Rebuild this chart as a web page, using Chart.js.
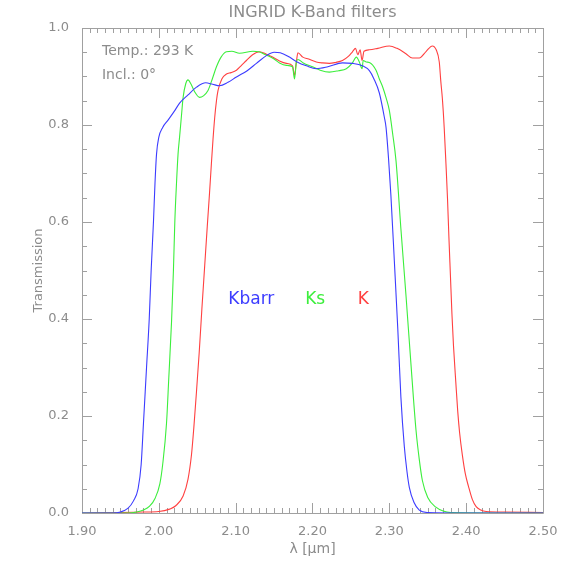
<!DOCTYPE html>
<html><head><meta charset="utf-8">
<script src="https://cdn.jsdelivr.net/npm/chart.js@4.4.0/dist/chart.umd.min.js"></script>
<style>html,body{margin:0;padding:0;background:#fff;}#wrap{width:566px;height:566px;}</style>
</head><body><div id="wrap"><canvas id="c" width="566" height="566"></canvas></div>
<script>
// ---- data (wavelength in micron, transmission) ----
const kbarrLambda = [1.90,1.94,1.950,1.960,1.967,1.973,1.977,1.980,1.984,1.9875,1.990,1.993,1.995,1.997,2.000,2.005,2.012,2.020,2.027,2.038,2.049,2.061,2.070,2.079,2.090,2.101,2.115,2.127,2.140,2.150,2.158,2.170,2.180,2.192,2.205,2.220,2.239,2.252,2.265,2.274,2.280,2.287,2.2935,2.2957,2.299,2.302,2.3065,2.311,2.315,2.3195,2.323,2.326,2.332,2.339,2.350,2.40,2.50];
const kbarrT      = [0,0,0.002,0.010,0.025,0.050,0.100,0.185,0.300,0.400,0.500,0.600,0.680,0.740,0.775,0.795,0.810,0.828,0.845,0.862,0.878,0.887,0.884,0.881,0.888,0.899,0.912,0.927,0.943,0.950,0.949,0.940,0.930,0.922,0.916,0.920,0.928,0.927,0.922,0.912,0.895,0.866,0.816,0.795,0.730,0.656,0.520,0.380,0.240,0.137,0.085,0.053,0.022,0.006,0.001,0,0];

const ksLambda = [1.90,1.96,1.971,1.980,1.988,1.995,2.0013,2.005,2.010,2.013,2.0165,2.019,2.0208,2.023,2.025,2.027,2.0295,2.0316,2.035,2.038,2.042,2.0468,2.053,2.058,2.064,2.070,2.075,2.081,2.088,2.095,2.105,2.1225,2.130,2.140,2.150,2.157,2.166,2.174,2.1766,2.179,2.181,2.188,2.200,2.210,2.222,2.234,2.244,2.252,2.257,2.261,2.2645,2.266,2.270,2.274,2.2827,2.287,2.291,2.296,2.300,2.3045,2.3087,2.315,2.3217,2.328,2.3347,2.339,2.343,2.350,2.3606,2.370,2.380,2.50];
const ksT      = [0,0,0.002,0.006,0.014,0.030,0.060,0.100,0.185,0.280,0.393,0.500,0.600,0.680,0.740,0.775,0.820,0.857,0.885,0.893,0.884,0.868,0.857,0.860,0.871,0.897,0.920,0.940,0.951,0.952,0.948,0.952,0.951,0.944,0.936,0.928,0.923,0.920,0.895,0.930,0.935,0.928,0.920,0.913,0.909,0.912,0.916,0.928,0.940,0.930,0.916,0.933,0.930,0.929,0.913,0.895,0.880,0.855,0.830,0.780,0.726,0.587,0.448,0.310,0.171,0.110,0.067,0.032,0.012,0.004,0.001,0];

const kLambda = [1.90,1.95,1.98,2.000,2.014,2.022,2.0316,2.038,2.0425,2.0455,2.049,2.0525,2.056,2.0597,2.063,2.066,2.0684,2.0705,2.0727,2.075,2.077,2.082,2.088,2.094,2.101,2.107,2.114,2.122,2.131,2.140,2.148,2.157,2.166,2.174,2.1766,2.179,2.181,2.1874,2.195,2.205,2.213,2.222,2.230,2.239,2.247,2.252,2.256,2.259,2.262,2.2645,2.267,2.274,2.285,2.300,2.310,2.3216,2.330,2.339,2.348,2.356,2.361,2.365,2.367,2.369,2.3714,2.3737,2.3757,2.3775,2.3795,2.3815,2.3835,2.3865,2.389,2.3915,2.395,2.399,2.403,2.408,2.413,2.419,2.426,2.45,2.50];
const kT      = [0,0.001,0.002,0.003,0.008,0.015,0.035,0.070,0.120,0.175,0.250,0.330,0.420,0.510,0.590,0.660,0.720,0.770,0.815,0.850,0.871,0.895,0.905,0.908,0.913,0.922,0.933,0.945,0.951,0.946,0.940,0.932,0.927,0.922,0.902,0.930,0.949,0.940,0.936,0.930,0.928,0.927,0.929,0.933,0.942,0.951,0.958,0.945,0.955,0.933,0.952,0.955,0.958,0.963,0.958,0.947,0.938,0.938,0.952,0.963,0.955,0.930,0.890,0.855,0.795,0.720,0.649,0.570,0.490,0.410,0.345,0.270,0.210,0.165,0.120,0.080,0.055,0.028,0.013,0.006,0.003,0.002,0.001];

const seriesNames  = ['Kbarr','Ks','K'];
const seriesColors = ['#3c3cff','#3cee3c','#ff4040'];
const xMin = 1.90, xMax = 2.50, xStep = 0.10, xMinorStep = 0.01;
const yMin = 0.0,  yMax = 1.0,  yStep = 0.2,  yMinorStep = 0.05;
const titleText = 'INGRID K-Band filters';
const xTitle = 'λ [μm]';
const yTitle = 'Transmission';
const noteLines = ['Temp.: 293 K', 'Incl.: 0°'];

const GREY = '#8c8c8c';
const AXIS = '#a0a0a0';
const FONT = 'DejaVu Sans';

function pts(xs, ys){ return xs.map((x,i)=>({x:x, y:ys[i]})); }
const allSeries = [pts(kbarrLambda,kbarrT), pts(ksLambda,ksT), pts(kLambda,kT)];

const decor = {
  id:'decor',
  beforeDatasetsDraw(chart){
    const {ctx, chartArea:a, scales:{x,y}} = chart;
    ctx.save();
    ctx.strokeStyle = AXIS; ctx.lineWidth = 1;
    ctx.beginPath();
    ctx.rect(Math.round(a.left)+0.5, Math.round(a.top)+0.5, Math.round(a.right-a.left), Math.round(a.bottom-a.top));
    ctx.stroke();
    ctx.beginPath();
    const nx = Math.round((xMax-xMin)/xMinorStep);
    for(let i=0;i<=nx;i++){
      const v = xMin + i*xMinorStep;
      const major = (i % Math.round(xStep/xMinorStep)) === 0;
      const L = major ? 10 : 5;
      const px = Math.round(x.getPixelForValue(v))+0.5;
      ctx.moveTo(px, a.bottom); ctx.lineTo(px, a.bottom-L);
      ctx.moveTo(px, a.top); ctx.lineTo(px, a.top+L);
    }
    const ny = Math.round((yMax-yMin)/yMinorStep);
    for(let i=0;i<=ny;i++){
      const v = yMin + i*yMinorStep;
      const major = (i % Math.round(yStep/yMinorStep)) === 0;
      const L = major ? 10 : 5;
      const py = Math.round(y.getPixelForValue(v))+0.5;
      ctx.moveTo(a.left, py); ctx.lineTo(a.left+L, py);
      ctx.moveTo(a.right, py); ctx.lineTo(a.right-L, py);
    }
    ctx.stroke();
    ctx.restore();
  },
  afterDraw(chart){
    const {ctx, chartArea:a, scales:{x,y}} = chart;
    ctx.save();
    ctx.fillStyle = GREY;
    ctx.textBaseline = 'middle';
    ctx.textAlign = 'center';
    ctx.font = '16px "' + FONT + '"';
    ctx.fillText(titleText, (a.left+a.right)/2, a.top-15);
    ctx.textAlign = 'left';
    ctx.font = '14px "' + FONT + '"';
    ctx.fillText(noteLines[0], x.getPixelForValue(1.926), y.getPixelForValue(0.951));
    ctx.fillText(noteLines[1], x.getPixelForValue(1.926), y.getPixelForValue(0.903));
    ctx.font = '17px "' + FONT + '"';
    const legX = [2.0904, 2.1905, 2.259];
    seriesNames.forEach((n,i)=>{
      ctx.fillStyle = seriesColors[i];
      ctx.fillText(n, x.getPixelForValue(legX[i]), y.getPixelForValue(0.441));
    });
    ctx.restore();
  }
};

new Chart(document.getElementById('c'), {
  type:'scatter',
  data:{
    datasets: allSeries.map((d,i)=>({
      label: seriesNames[i], data:d, showLine:true, pointRadius:0,
      borderColor: seriesColors[i], borderWidth:1.1, fill:false,
      cubicInterpolationMode:'monotone'
    }))
  },
  options:{
    responsive:false, animation:false, devicePixelRatio:1,
    layout:{padding:{top:28,right:23,bottom:0,left:0}},
    plugins:{legend:{display:false}, tooltip:{enabled:false}, title:{display:false}},
    scales:{
      x:{type:'linear', position:'bottom', min:xMin, max:xMax,
        grid:{display:false}, border:{display:false},
        ticks:{stepSize:xStep, color:GREY, font:{family:FONT,size:13}, padding:3,
          callback:v=>Number(v).toFixed(2), maxRotation:0, autoSkip:false},
        title:{display:true, text:xTitle, color:GREY, font:{family:FONT,size:14}, padding:{top:0,bottom:8}},
        afterFit:s=>{s.height=53;}
      },
      y:{type:'linear', position:'left', min:yMin, max:yMax,
        grid:{display:false}, border:{display:false},
        ticks:{stepSize:yStep, color:GREY, font:{family:FONT,size:13}, padding:5,
          callback:v=>Number(v).toFixed(1)},
        title:{display:true, text:yTitle, color:GREY, font:{family:FONT,size:13}, padding:{top:31,bottom:0}},
        afterFit:s=>{s.width=82;}
      }
    }
  },
  plugins:[decor]
});
</script></body></html>
